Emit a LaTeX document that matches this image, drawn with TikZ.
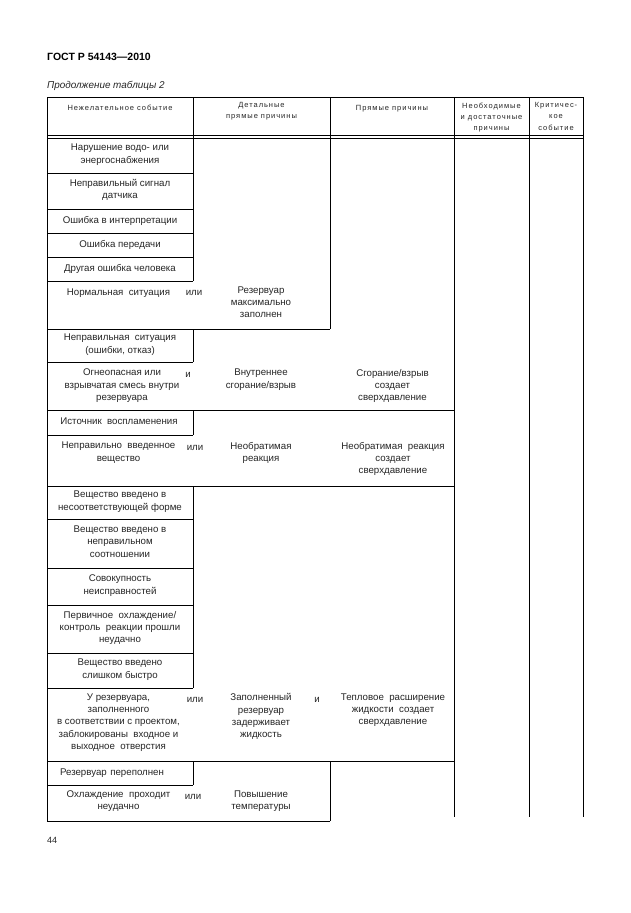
\documentclass[tikz,border=0pt]{standalone}
\usepackage{fontspec}
\setmainfont{Liberation Sans}
\newfontfamily\hdrfam[LetterSpace=13]{Liberation Sans}
\begin{document}
\begin{tikzpicture}[x=1pt,y=-1pt,
  rule/.style={line width=0.9pt, black},
  body/.style={font=\fontsize{9.7}{12.3}\selectfont, text=black!85, align=center, inner sep=0pt,
     execute at begin node=\strut, execute at end node=\strut},
  cellc/.style={body, anchor=center},
  cellt/.style={body, anchor=north},
  hdr/.style={font=\hdrfam\fontsize{7.5}{11.2}\selectfont, text=black!85, align=center, inner sep=0pt, anchor=north,
     execute at begin node=\strut, execute at end node=\strut}]
\useasboundingbox[fill=white] (0,0) rectangle (630,913);

% title texts
\node[anchor=base west, inner sep=0pt, font=\fontsize{10.5}{12}\selectfont\bfseries] (title) at (47,60) {ГОСТ Р 54143—2010};
\node[anchor=base west, inner sep=0pt, font=\fontsize{9.9}{12}\selectfont\itshape, text=black!85] (cont) at (47,88) {Продолжение таблицы 2};
\node[anchor=base west, inner sep=0pt, font=\fontsize{9}{11}\selectfont, text=black!85] (page) at (47,843.5) {44};

% column x: L=47 A=193 B=330 C=454 D=529 R=583
% horizontal rules
\draw[rule] (47,97) -- (583,97);
\draw[rule] (47,135.5) -- (583,135.5);
\draw[rule] (47,138) -- (583,138);
\foreach \yy in {173,209,233,257,281,362,435,519,568,605,653,688,785}
  \draw[rule] (47,\yy) -- (193,\yy);
\draw[rule] (47,329) -- (330,329);
\draw[rule] (47,821) -- (330,821);
\foreach \yy in {410,486,761}
  \draw[rule] (47,\yy) -- (454,\yy);
% vertical rules
\draw[rule] (47,97) -- (47,821);
\draw[rule] (193,97) -- (193,281);
\draw[rule] (193,329) -- (193,362);
\draw[rule] (193,410) -- (193,435);
\draw[rule] (193,486) -- (193,688);
\draw[rule] (193,761) -- (193,785);
\draw[rule] (330,97) -- (330,329);
\draw[rule] (330,761) -- (330,821);
\draw[rule] (454,97) -- (454,817);
\draw[rule] (529,97) -- (529,817);
\draw[rule] (583,97) -- (583,817);

% header
\node[hdr] (h1) at (120,102.3) {Нежелательное событие};
\node[hdr] (h2) at (261.5,102.3) {Детальные\\прямые причины};
\node[hdr] (h3) at (392,102.3) {Прямые причины};
\node[hdr] (h4) at (491.5,102.3) {Необходимые\\и достаточные\\причины};
\node[hdr] (h5) at (556,102.3) {Критичес-\\кое\\событие};

% column 1 boxes
\node[cellc] (b1) at (120,155.5) {Нарушение водо- или\\энергоснабжения};
\node[cellc] (b2) at (120,191) {Неправильный сигнал\\датчика};
\node[cellc] (b3) at (120,221) {Ошибка в интерпретации};
\node[cellc] (b4) at (120,245) {Ошибка передачи};
\node[cellc] (b5) at (120,269) {Другая ошибка человека};

% row: normal situation
\node[cellt] (n1) at (118.5,286.5) {Нормальная\ \ ситуация};
\node[cellt] (n2) at (194,286.5) {или};
\node[cellt] (n3) at (261,286.5) {Резервуар\\максимально\\заполнен};

\node[cellc] (b6) at (120,345.5) {Неправильная\ \ ситуация\\(ошибки, отказ)};

% row: flammable mixture
\node[cellt] (f1) at (122,369) {Огнеопасная или\\взрывчатая смесь внутри\\резервуара};
\node[cellt] (f2) at (188,369) {и};
\node[cellt] (f3) at (261,369) {Внутреннее\\сгорание/взрыв};
\node[cellt] (f4) at (392.5,369) {Сгорание/взрыв\\создает\\сверхдавление};

\node[cellc] (b8) at (119,422.5) {Источник\ \ воспламенения};

% row: wrong substance
\node[cellt] (r1) at (118.5,442) {Неправильно\ \ введенное\\вещество};
\node[cellt] (r2) at (195,442) {или};
\node[cellt] (r3) at (261,442) {Необратимая\\реакция};
\node[cellt] (r4) at (393,442) {Необратимая\ \ реакция\\создает\\сверхдавление};

\node[cellc] (b10) at (120,502.5) {Вещество введено в\\несоответствующей форме};
\node[cellc] (b11) at (120,543.5) {Вещество введено в\\неправильном\\соотношении};
\node[cellc] (b12) at (120,586.5) {Совокупность\\неисправностей};
\node[cellc] (b13) at (120,629) {Первичное\ \ охлаждение/\\контроль\ \ реакции прошли\\неудачно};
\node[cellc] (b14) at (120,670.5) {Вещество введено\\слишком быстро};

% row: blocked tank
\node[cellt] (t1) at (118.5,693.5) {У резервуара,\\заполненного\\в соответствии с проектом,\\заблокированы\ \ входное и\\выходное\ \ отверстия};
\node[cellt] (t2) at (195,693.5) {или};
\node[cellt] (t3) at (261,693.5) {Заполненный\\резервуар\\задерживает\\жидкость};
\node[cellt] (t4) at (317,693.5) {и};
\node[cellt] (t5) at (393,693.5) {Тепловое\ \ расширение\\жидкости\ \ создает\\сверхдавление};

\node[cellc] (b16) at (112,773) {Резервуар\hspace{3.5pt}переполнен};

% row: cooling fails
\node[cellt] (c1) at (118.5,790.7) {Охлаждение\ \ проходит\\неудачно};
\node[cellt] (c2) at (193,790.7) {или};
\node[cellt] (c3) at (261,790.7) {Повышение\\температуры};
\end{tikzpicture}
\end{document}
